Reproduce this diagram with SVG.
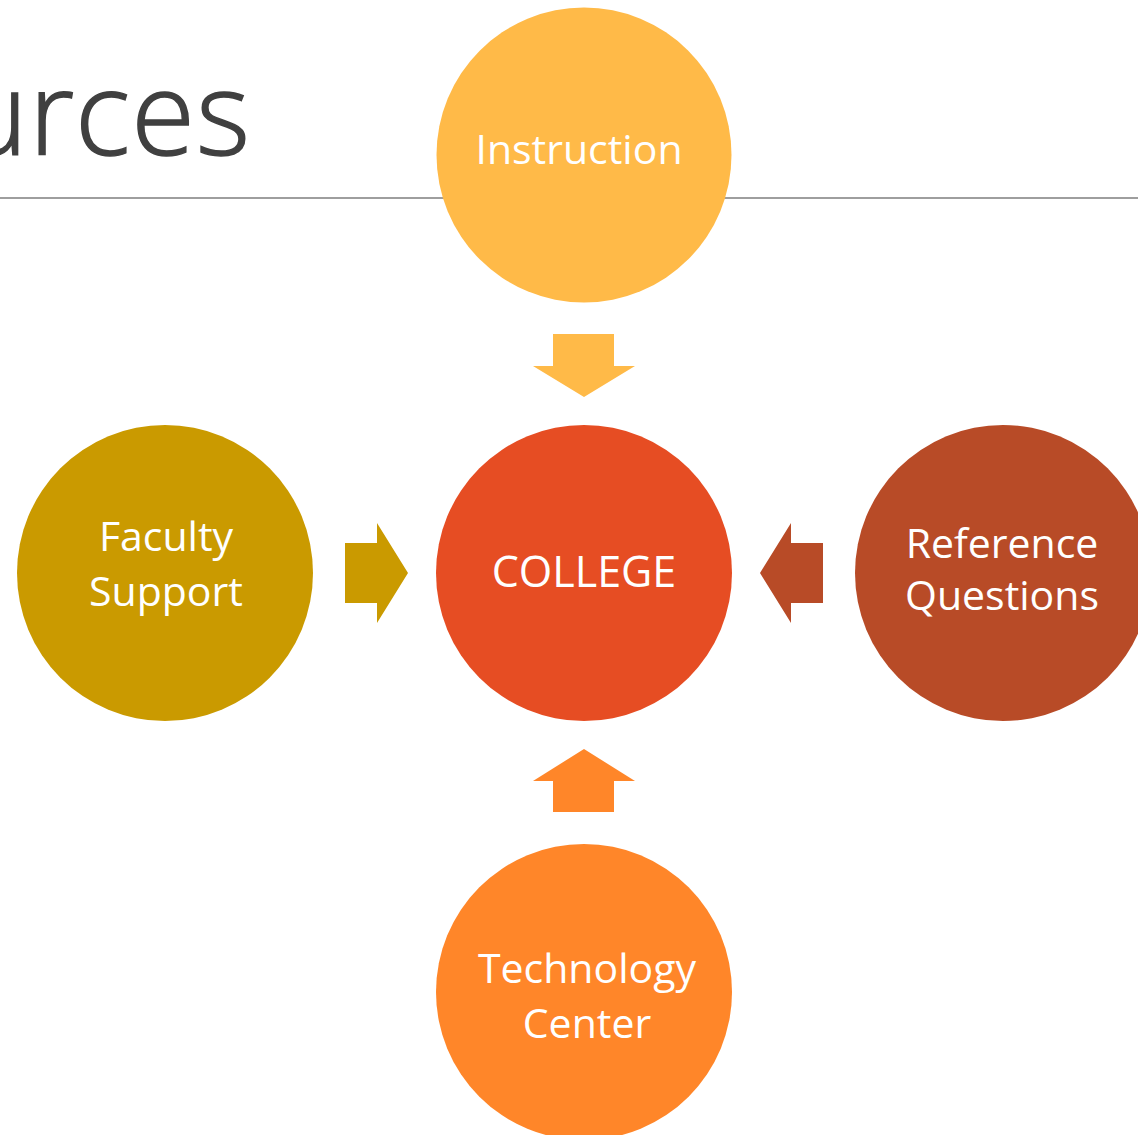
<svg xmlns="http://www.w3.org/2000/svg" width="1138" height="1135" viewBox="0 0 1138 1135">
<style>
.lbl{font-family:"Open Sans","Liberation Sans",sans-serif;font-size:41px;fill:#ffffff;text-anchor:middle}
.title{font-family:"Open Sans","Liberation Sans",sans-serif;font-weight:300;font-size:116px;fill:#404040;stroke:#404040;stroke-width:1.5;text-anchor:end;letter-spacing:1px}
</style>
<rect width="1138" height="1135" fill="#ffffff"/>
<text class="title" x="251" y="155">urces</text>
<line x1="0" y1="198" x2="1138" y2="198" stroke="#9e9e9e" stroke-width="2"/>
<g id="connectors">
<polygon id="arrow-top" fill="#FFBA48" points="553,334 614,334 614,366 635,366 584,397 533,366 553,366"/>
<polygon id="arrow-left" fill="#CA9A00" points="345,543 377,543 377,523 408,573 377,623 377,603 345,603"/>
<polygon id="arrow-right" fill="#B84B27" points="823,543 791,543 791,523 760,573 791,623 791,603 823,603"/>
<polygon id="arrow-bottom" fill="#FF8629" points="553,812 614,812 614,781 635,781 584,749 533,781 553,781"/>
</g>
<g id="instruction">
<circle cx="584" cy="155" r="147.5" fill="#FFBA48"/>
<text class="lbl" x="579" y="164">Instruction</text>
</g>
<g id="college">
<circle cx="584" cy="573" r="148" fill="#E64D23"/>
<text class="lbl" x="584" y="587" style="font-size:43px">COLLEGE</text>
</g>
<g id="faculty-support">
<circle cx="165" cy="573" r="148" fill="#CA9A00"/>
<text class="lbl" x="166" y="551">Faculty</text>
<text class="lbl" x="166" y="606">Support</text>
</g>
<g id="reference-questions">
<circle cx="1003" cy="573" r="148" fill="#B84B27"/>
<text class="lbl" x="1002" y="558">Reference</text>
<text class="lbl" x="1002" y="610">Questions</text>
</g>
<g id="technology-center">
<circle cx="584" cy="992" r="148" fill="#FF8629"/>
<text class="lbl" x="587" y="983">Technology</text>
<text class="lbl" x="587" y="1038">Center</text>
</g>
</svg>
